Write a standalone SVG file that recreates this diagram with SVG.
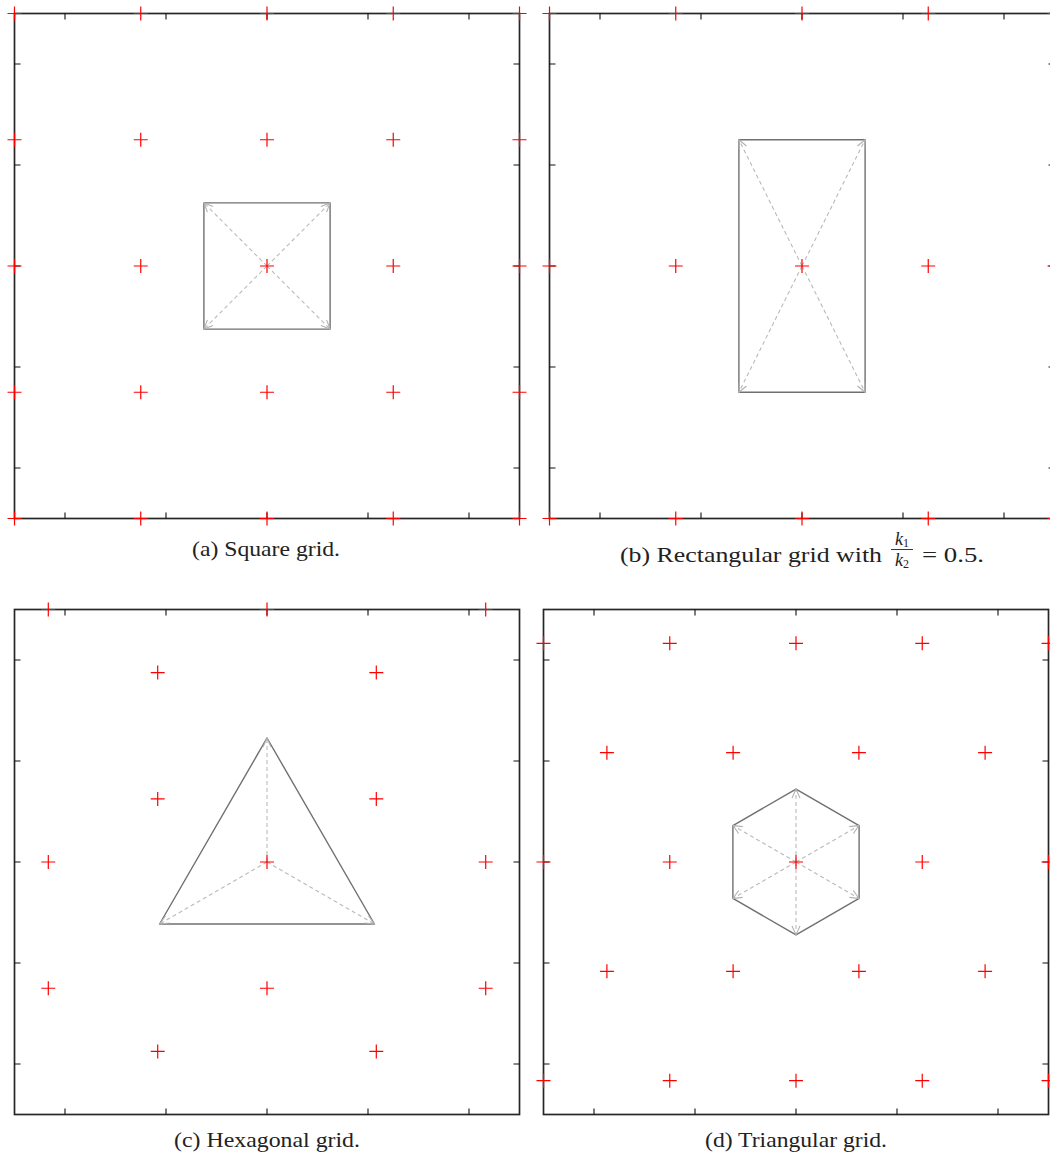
<svg xmlns="http://www.w3.org/2000/svg" width="1050" height="1157" viewBox="0 0 1050 1157">
<style>
.frame{fill:none;stroke:#262626;stroke-width:1.7}
.tick{stroke:#111;stroke-width:1.1}
.cross{fill:none;stroke:#ff0000;stroke-width:1.2}
.cell{fill:none;stroke:#707070;stroke-width:1.4;stroke-linejoin:round}
.arr{stroke:#bababa;stroke-width:1.1;stroke-dasharray:4 3;fill:none}
.cap{font-family:"Liberation Serif",serif;font-size:21px;fill:#222}
.math{font-family:"Liberation Serif",serif;font-style:italic;fill:#222}
</style>
<defs>
<path id="x" class="cross" d="M-7,0H7M0,-7V7"/>
<marker id="ah" markerUnits="userSpaceOnUse" markerWidth="14" markerHeight="14" refX="10" refY="6" orient="auto">
<path d="M1,2 L10,6 L1,10" fill="none" stroke="#b0b0b0" stroke-width="1.1"/>
</marker>
</defs>

<g id="panel-a">
<rect class="frame" x="14.5" y="13.5" width="505" height="505"/>
<path class="tick" d="M65,13.5v6M166,13.5v6M267,13.5v6M368,13.5v6M469,13.5v6M65,518.5v-6M166,518.5v-6M267,518.5v-6M368,518.5v-6M469,518.5v-6M14.5,64h6M14.5,165h6M14.5,266h6M14.5,367h6M14.5,468h6M519.5,64h-6M519.5,165h-6M519.5,266h-6M519.5,367h-6M519.5,468h-6"/>
<rect class="cell" x="203.9" y="202.9" width="126.2" height="126.2"/>
<g class="arr" marker-end="url(#ah)">
<line x1="267" y1="266" x2="203.9" y2="202.9"/>
<line x1="267" y1="266" x2="330.1" y2="202.9"/>
<line x1="267" y1="266" x2="203.9" y2="329.1"/>
<line x1="267" y1="266" x2="330.1" y2="329.1"/>
</g>
<g id="crosses-a">
<use href="#x" x="14.5" y="13.5"/><use href="#x" x="140.75" y="13.5"/><use href="#x" x="267" y="13.5"/><use href="#x" x="393.25" y="13.5"/><use href="#x" x="519.5" y="13.5"/>
<use href="#x" x="14.5" y="139.75"/><use href="#x" x="140.75" y="139.75"/><use href="#x" x="267" y="139.75"/><use href="#x" x="393.25" y="139.75"/><use href="#x" x="519.5" y="139.75"/>
<use href="#x" x="14.5" y="266"/><use href="#x" x="140.75" y="266"/><use href="#x" x="267" y="266"/><use href="#x" x="393.25" y="266"/><use href="#x" x="519.5" y="266"/>
<use href="#x" x="14.5" y="392.25"/><use href="#x" x="140.75" y="392.25"/><use href="#x" x="267" y="392.25"/><use href="#x" x="393.25" y="392.25"/><use href="#x" x="519.5" y="392.25"/>
<use href="#x" x="14.5" y="518.5"/><use href="#x" x="140.75" y="518.5"/><use href="#x" x="267" y="518.5"/><use href="#x" x="393.25" y="518.5"/><use href="#x" x="519.5" y="518.5"/>
</g>
<text class="cap" x="192" y="556" textLength="148" lengthAdjust="spacingAndGlyphs">(a) Square grid.</text>
</g>

<g id="panel-b">
<rect class="frame" x="549.5" y="13.5" width="505" height="505"/>
<path class="tick" d="M600,13.5v6M701,13.5v6M802,13.5v6M903,13.5v6M1004,13.5v6M600,518.5v-6M701,518.5v-6M802,518.5v-6M903,518.5v-6M1004,518.5v-6M549.5,64h6M549.5,165h6M549.5,266h6M549.5,367h6M549.5,468h6M1054.5,64h-6M1054.5,165h-6M1054.5,266h-6M1054.5,367h-6M1054.5,468h-6"/>
<rect class="cell" x="738.9" y="139.75" width="126.2" height="252.5"/>
<g class="arr" marker-end="url(#ah)">
<line x1="802" y1="266" x2="738.9" y2="139.75"/>
<line x1="802" y1="266" x2="865.1" y2="139.75"/>
<line x1="802" y1="266" x2="738.9" y2="392.25"/>
<line x1="802" y1="266" x2="865.1" y2="392.25"/>
</g>
<g id="crosses-b">
<use href="#x" x="549.5" y="13.5"/><use href="#x" x="675.75" y="13.5"/><use href="#x" x="802" y="13.5"/><use href="#x" x="928.25" y="13.5"/><use href="#x" x="1054.5" y="13.5"/>
<use href="#x" x="549.5" y="266"/><use href="#x" x="675.75" y="266"/><use href="#x" x="802" y="266"/><use href="#x" x="928.25" y="266"/><use href="#x" x="1054.5" y="266"/>
<use href="#x" x="549.5" y="518.5"/><use href="#x" x="675.75" y="518.5"/><use href="#x" x="802" y="518.5"/><use href="#x" x="928.25" y="518.5"/><use href="#x" x="1054.5" y="518.5"/>
</g>
<text class="cap" x="620" y="562" textLength="262" lengthAdjust="spacingAndGlyphs">(b) Rectangular grid with</text>
<text class="math" x="902" y="545" font-size="18" text-anchor="middle">k<tspan font-size="12" font-style="normal" dy="2">1</tspan></text>
<line x1="891" y1="549.5" x2="913" y2="549.5" stroke="#222" stroke-width="0.9"/>
<text class="math" x="902" y="566" font-size="18" text-anchor="middle">k<tspan font-size="12" font-style="normal" dy="2">2</tspan></text>
<text class="cap" x="922" y="562" textLength="62" lengthAdjust="spacingAndGlyphs">= 0.5.</text>
</g>

<g id="panel-c">
<rect class="frame" x="14.5" y="609.5" width="505" height="505"/>
<path class="tick" d="M65,609.5v6M166,609.5v6M267,609.5v6M368,609.5v6M469,609.5v6M65,1114.5v-6M166,1114.5v-6M267,1114.5v-6M368,1114.5v-6M469,1114.5v-6M14.5,660h6M14.5,761h6M14.5,862h6M14.5,963h6M14.5,1064h6M519.5,660h-6M519.5,761h-6M519.5,862h-6M519.5,963h-6M519.5,1064h-6"/>
<polygon class="cell" points="267,738 374.4,924 159.6,924"/>
<g class="arr" marker-end="url(#ah)">
<line x1="267" y1="862" x2="267" y2="738"/>
<line x1="267" y1="862" x2="374.4" y2="924"/>
<line x1="267" y1="862" x2="159.6" y2="924"/>
</g>
<g id="crosses-c">
<use href="#x" x="48.3" y="609.5"/><use href="#x" x="267" y="609.5"/><use href="#x" x="485.7" y="609.5"/>
<use href="#x" x="48.3" y="862"/><use href="#x" x="267" y="862"/><use href="#x" x="485.7" y="862"/>
<use href="#x" x="48.3" y="988.25"/><use href="#x" x="267" y="988.25"/><use href="#x" x="485.7" y="988.25"/>
<use href="#x" x="157.7" y="672.6"/><use href="#x" x="376.3" y="672.6"/>
<use href="#x" x="157.7" y="798.9"/><use href="#x" x="376.3" y="798.9"/>
<use href="#x" x="157.7" y="1051.4"/><use href="#x" x="376.3" y="1051.4"/>
</g>
<text class="cap" x="174" y="1147" textLength="186" lengthAdjust="spacingAndGlyphs">(c) Hexagonal grid.</text>
</g>

<g id="panel-d">
<rect class="frame" x="543.5" y="609.5" width="505" height="505"/>
<path class="tick" d="M594,609.5v6M695,609.5v6M796,609.5v6M897,609.5v6M998,609.5v6M594,1114.5v-6M695,1114.5v-6M796,1114.5v-6M897,1114.5v-6M998,1114.5v-6M543.5,660h6M543.5,761h6M543.5,862h6M543.5,963h6M543.5,1064h6M1048.5,660h-6M1048.5,761h-6M1048.5,862h-6M1048.5,963h-6M1048.5,1064h-6"/>
<polygon class="cell" points="796,789.1 859.1,825.55 859.1,898.45 796,934.9 732.9,898.45 732.9,825.55"/>
<g class="arr" marker-end="url(#ah)">
<line x1="796" y1="862" x2="796" y2="789.1"/>
<line x1="796" y1="862" x2="859.1" y2="825.55"/>
<line x1="796" y1="862" x2="859.1" y2="898.45"/>
<line x1="796" y1="862" x2="796" y2="934.9"/>
<line x1="796" y1="862" x2="732.9" y2="898.45"/>
<line x1="796" y1="862" x2="732.9" y2="825.55"/>
</g>
<g id="crosses-d">
<use href="#x" x="543.5" y="643.3"/><use href="#x" x="669.75" y="643.3"/><use href="#x" x="796" y="643.3"/><use href="#x" x="922.25" y="643.3"/><use href="#x" x="1048.5" y="643.3"/>
<use href="#x" x="606.9" y="752.7"/><use href="#x" x="733.1" y="752.7"/><use href="#x" x="858.9" y="752.7"/><use href="#x" x="985.1" y="752.7"/>
<use href="#x" x="543.5" y="862"/><use href="#x" x="669.75" y="862"/><use href="#x" x="796" y="862"/><use href="#x" x="922.25" y="862"/><use href="#x" x="1048.5" y="862"/>
<use href="#x" x="606.9" y="971.3"/><use href="#x" x="733.1" y="971.3"/><use href="#x" x="858.9" y="971.3"/><use href="#x" x="985.1" y="971.3"/>
<use href="#x" x="543.5" y="1080.7"/><use href="#x" x="669.75" y="1080.7"/><use href="#x" x="796" y="1080.7"/><use href="#x" x="922.25" y="1080.7"/><use href="#x" x="1048.5" y="1080.7"/>
</g>
<text class="cap" x="705" y="1147" textLength="182" lengthAdjust="spacingAndGlyphs">(d) Triangular grid.</text>
</g>
</svg>
